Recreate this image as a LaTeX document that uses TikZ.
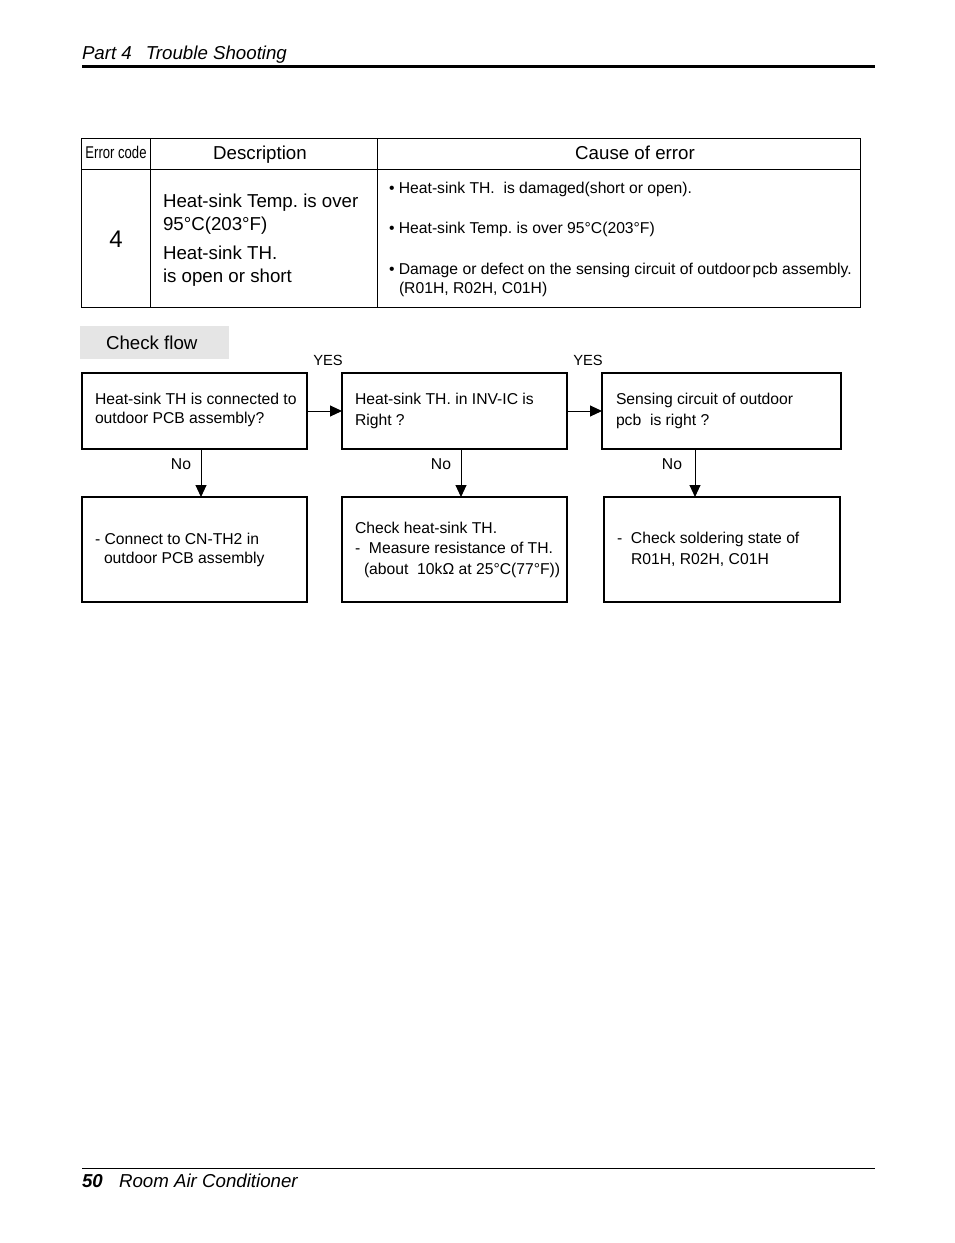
\documentclass[tikz,border=0pt]{standalone}
\usepackage{fontspec}
\setmainfont{Liberation Sans}
\newfontfamily\narrowfont[FakeStretch=0.77]{Liberation Sans}
\usetikzlibrary{arrows.meta}
\frenchspacing
\tikzset{
  flowbox/.style={draw=black, line width=1.5pt, inner sep=0pt, outer sep=0pt},
  txt/.style={inner sep=0pt, outer sep=0pt, anchor=base west, font=\fontsize{15.7}{18}\selectfont},
  ctxt/.style={inner sep=0pt, outer sep=0pt, anchor=base, font=\fontsize{15.7}{18}\selectfont},
  big/.style={inner sep=0pt, outer sep=0pt, anchor=base west, font=\fontsize{18.7}{22}\selectfont},
  bigc/.style={inner sep=0pt, outer sep=0pt, anchor=base, font=\fontsize{18.7}{22}\selectfont},
  arr/.style={line width=1pt, -{Triangle[length=12pt,width=11pt]}},
  tbl/.style={line width=1pt}
}
\begin{document}
\begin{tikzpicture}[x=1pt,y=-1pt]
\useasboundingbox (0,0) rectangle (954,1243);
\fill[white] (0,0) rectangle (954,1243);
% header
\node[big, font=\fontsize{18.7}{22}\selectfont\itshape] (hdr) at (82,59) {Part 4\hspace{14pt}Trouble Shooting};
\draw[line width=3pt] (82,66.5) -- (875,66.5);
% table
\draw[tbl] (81,138) rectangle (860,307);
\draw[tbl] (81,169) -- (860,169);
\draw[tbl] (150,138) -- (150,307);
\draw[tbl] (377,138) -- (377,307);
\node[inner sep=0pt, anchor=base, font=\fontsize{17}{18}\narrowfont] (ec) at (116,158.5) {Error code};
\node[bigc] (desc) at (260,159) {Description};
\node[bigc] (cause) at (635,159) {Cause of error};
\node[inner sep=0pt, anchor=base, font=\fontsize{24}{28}\selectfont] (code) at (116,247) {4};
\node[big] (d1) at (163,207.5) {Heat-sink Temp. is over};
\node[big] (d2) at (163,230.5) {95°C(203°F)};
\node[big] (d3) at (163,259.5) {Heat-sink TH.};
\node[big] (d4) at (163,282.5) {is open or short};
\node[txt] (c1) at (389,193.5) {• Heat-sink TH.\ \ is damaged(short or open).};
\node[txt] (c2) at (389,233.5) {• Heat-sink Temp. is over 95°C(203°F)};
\node[txt] (c3) at (389,274.5) {• Damage or defect on the sensing circuit of outdoor\hspace{2pt}pcb assembly.};
\node[txt] (c4) at (399,293.5) {(R01H, R02H, C01H)};
% check flow label
\node[fill=black!10, minimum width=149pt, minimum height=33pt, inner sep=0pt, outer sep=0pt] (cfbox) at (154.5,342.5) {};
\node[big] (cf) at (106,349.5) {Check flow};
% boxes
\node[flowbox, minimum width=225pt, minimum height=76pt] (a) at (194.5,411) {};
\node[flowbox, minimum width=225pt, minimum height=76pt] (b) at (454.5,411) {};
\node[flowbox, minimum width=239pt, minimum height=76pt] (c) at (721.5,411) {};
\node[flowbox, minimum width=225pt, minimum height=105pt] (d) at (194.5,549.5) {};
\node[flowbox, minimum width=225pt, minimum height=105pt] (e) at (454.5,549.5) {};
\node[flowbox, minimum width=236pt, minimum height=105pt] (f) at (722,549.5) {};
% box texts
\node[txt] (a1) at (95,404.5) {Heat-sink TH is connected to};
\node[txt] (a2) at (95,423.5) {outdoor PCB assembly?};
\node[txt] (b1) at (355,404.5) {Heat-sink TH. in INV-IC is};
\node[txt] (b2) at (355,425.5) {Right ?};
\node[txt] (c1b) at (616,404.5) {Sensing circuit of outdoor};
\node[txt] (c2b) at (616,425.5) {pcb\ \ is right ?};
\node[txt] (d1b) at (95,544.5) {- Connect to CN-TH2 in};
\node[txt] (d2b) at (104,563.5) {outdoor PCB assembly};
\node[txt] (e1) at (355,533.5) {Check heat-sink TH.};
\node[txt] (e2) at (355,553.5) {-\ \ Measure resistance of TH.};
\node[txt] (e3) at (364,574.5) {(about\ \ 10kΩ at 25°C(77°F))};
\node[txt] (f1) at (617,543.5) {-\ \ Check soldering state of};
\node[txt] (f2) at (631,564.5) {R01H, R02H, C01H};
% connectors
\draw[arr] (a.east) -- (b.west);
\draw[arr] (b.east) -- (c.west);
\coordinate (xa) at (201,0);
\coordinate (xb) at (461,0);
\coordinate (xc) at (695,0);
\draw[arr] (a.south -| xa) -- (d.north -| xa);
\draw[arr] (b.south -| xb) -- (e.north -| xb);
\draw[arr] (c.south -| xc) -- (f.north -| xc);
\node[ctxt, font=\fontsize{14.7}{17}\selectfont] (y1) at (328,365.5) {YES};
\node[ctxt, font=\fontsize{14.7}{17}\selectfont] (y2) at (588,365.5) {YES};
\node[ctxt] (n1) at (181,469.5) {No};
\node[ctxt] (n2) at (441,469.5) {No};
\node[ctxt] (n3) at (672,469.5) {No};
% footer
\draw[line width=1pt] (82,1168) -- (875,1168);
\node[big, font=\fontsize{18.7}{22}\selectfont\bfseries\itshape] (pg) at (82,1187.5) {50};
\node[big, font=\fontsize{18.7}{22}\selectfont\itshape] (ftr) at (119,1187.5) {Room Air Conditioner};
\end{tikzpicture}
\end{document}
